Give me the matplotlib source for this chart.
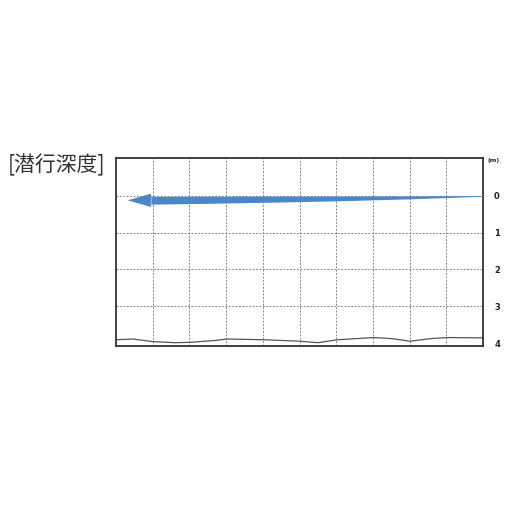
import matplotlib.pyplot as plt
from matplotlib.patches import Polygon
import numpy as np

plt.rcParams['font.family'] = ['Noto Sans CJK JP', 'DejaVu Sans']

TITLE = "[潜行深度]"
UNIT = "(m)"
depth_ticks = [0, 1, 2, 3, 4]

# seabed profile (grid units along x, depth in m)
seabed_x = [0, 0.46, 1.0, 1.61, 2.02, 2.70, 3.03, 4.03, 5.01, 5.50, 6.04, 7.03, 7.52, 8.01, 8.56, 9.04, 10]
seabed_depth = [3.91, 3.89, 3.96, 3.99, 3.98, 3.93, 3.89, 3.91, 3.95, 3.99, 3.91, 3.85, 3.88, 3.95, 3.88, 3.85, 3.86]

# dive track: runs right -> left, widening as it goes
track_x = [10.0, 8.0, 6.0, 4.0, 2.0, 0.95]
track_depth = [0.0, 0.04, 0.07, 0.09, 0.11, 0.12]
track_width = [0.02, 0.08, 0.13, 0.17, 0.20, 0.21]
head_tip = (0.32, 0.12)
head_base_x = 0.95
head_half = 0.18

BLUE = "#4a86c8"

fig = plt.figure(figsize=(5.12, 5.12), dpi=100)
ax = fig.add_axes([116 / 512, 166 / 512, 367 / 512, 188 / 512])
ax.set_xlim(0, 10)
ax.set_ylim(4.08, -1.03)

for x in range(1, 10):
    ax.axvline(x, color="#888888", lw=0.7, ls=(0, (2, 1.5)), zorder=1)
for d in depth_ticks[:-1]:
    ax.axhline(d, color="#888888", lw=0.7, ls=(0, (2, 1.5)), zorder=1)

ax.plot(seabed_x, seabed_depth, color="#555555", lw=0.9, zorder=2)

tx = np.array(track_x)
td = np.array(track_depth)
tw = np.array(track_width) / 2
ax.fill_between(tx, td - tw, td + tw, color=BLUE, lw=0, zorder=3)
head = Polygon([head_tip,
                (head_base_x, head_tip[1] - head_half),
                (head_base_x, head_tip[1] + head_half)],
               closed=True, color=BLUE, lw=0, zorder=3)
ax.add_patch(head)

ax.set_xticks([])
ax.set_yticks(depth_ticks)
ax.set_yticklabels([str(d) for d in depth_ticks], fontsize=6, fontweight="bold",
                   family="DejaVu Sans")
ax.yaxis.tick_right()
ax.tick_params(axis="y", length=0, pad=8, colors="#222222")
for s in ax.spines.values():
    s.set_color("#333333")
    s.set_linewidth(1.3)

ax.text(1.012, 1.0, UNIT, transform=ax.transAxes, fontsize=4.5, fontweight="bold",
        family="DejaVu Sans", ha="left", va="top", color="#222222")
fig.text(8 / 512, 1 - 165 / 512, TITLE, fontsize=15, ha="left", va="center",
         color="#333333")

fig.savefig("out.png", dpi=100)
